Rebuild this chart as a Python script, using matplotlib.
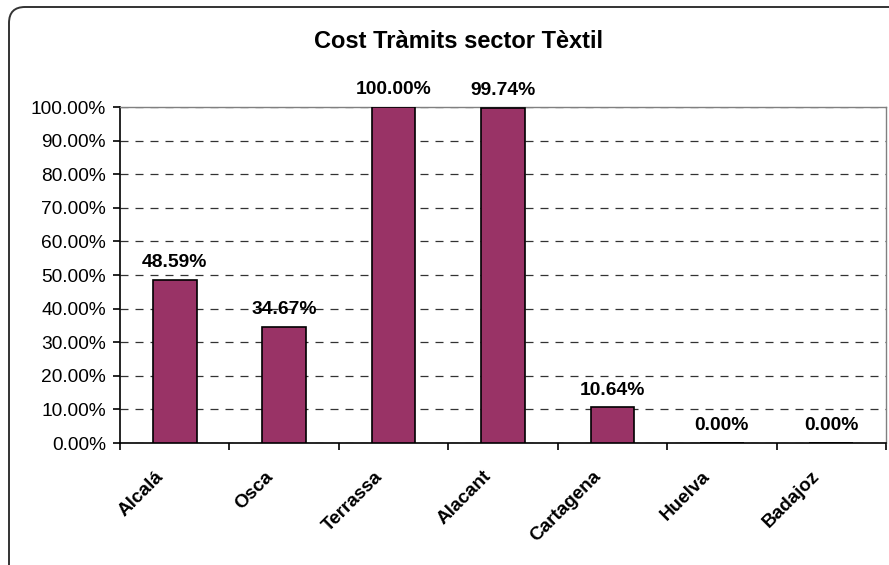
import matplotlib.pyplot as plt
import matplotlib.ticker as mticker
from matplotlib.patches import FancyBboxPatch
from matplotlib.transforms import ScaledTranslation
import numpy as np

plt.rcParams['font.family'] = ['Liberation Sans', 'DejaVu Sans']

# dades del grafic
cities = ['Alcalá', 'Osca', 'Terrassa', 'Alacant', 'Cartagena', 'Huelva', 'Badajoz']
cost = [0.4859, 0.3467, 1.0000, 0.9974, 0.1064, 0.0, 0.0]
yticks = [0.0, 0.1, 0.2, 0.3, 0.4, 0.5, 0.6, 0.7, 0.8, 0.9, 1.0]

fig = plt.figure(figsize=(8.89, 5.65), dpi=100)

# marc arrodonit de fora (tallat a la dreta i a baix)
frame = FancyBboxPatch((0.09, -0.3), 9.2, 5.58 + 0.3,
                       boxstyle='round,pad=0,rounding_size=0.16',
                       transform=fig.dpi_scale_trans, fill=False,
                       edgecolor='#333333', linewidth=1.4)
fig.patches.append(frame)

ax = fig.add_axes([120 / 889, 1 - 443 / 565, (886 - 120) / 889, (443 - 107) / 565])

x = np.arange(len(cities))
ax.bar(x, cost, width=0.4, color='#993366', edgecolor='black', linewidth=1.2, zorder=3)

for xi, v in zip(x, cost):
    ax.annotate('%.2f%%' % (v * 100), (xi, v), xytext=(0, 9), textcoords='offset points',
                ha='center', va='baseline', fontsize=13.9, fontweight='bold')

ax.set_xlim(-0.5, len(cities) - 0.5)
ax.set_ylim(0, 1.0)
ax.set_yticks(yticks)
ax.yaxis.set_major_formatter(mticker.FuncFormatter(lambda v, p: '%.2f%%' % (v * 100)))
ax.yaxis.grid(True, linestyle=(0, (6.4, 5.6)), color='#333333', linewidth=0.9, zorder=0)

ax.set_xticks(x)
ax.set_xticklabels(cities, rotation=45, ha='right', va='top', fontsize=13.6, fontweight='bold')
ax.set_xticks(np.arange(-0.5, len(cities)), minor=True)
ax.tick_params(axis='x', which='major', length=0, pad=18)
ax.tick_params(axis='x', which='minor', length=5, width=1.2, direction='out')
ax.tick_params(axis='y', length=5, width=1.2, direction='out', pad=5, labelsize=13.8)
for lab in ax.get_xticklabels():
    lab.set_transform(lab.get_transform() + ScaledTranslation(-0.08, 0, fig.dpi_scale_trans))

for s in ['left', 'bottom']:
    ax.spines[s].set_color('black')
    ax.spines[s].set_linewidth(1.2)
for s in ['top', 'right']:
    ax.spines[s].set_color('#808080')
    ax.spines[s].set_linewidth(1.0)

fig.text(459 / 889, 1 - 42 / 565, 'Cost Tràmits sector Tèxtil', ha='center', va='center',
         fontsize=17, fontweight='bold')

fig.savefig('out.png', dpi=100)
